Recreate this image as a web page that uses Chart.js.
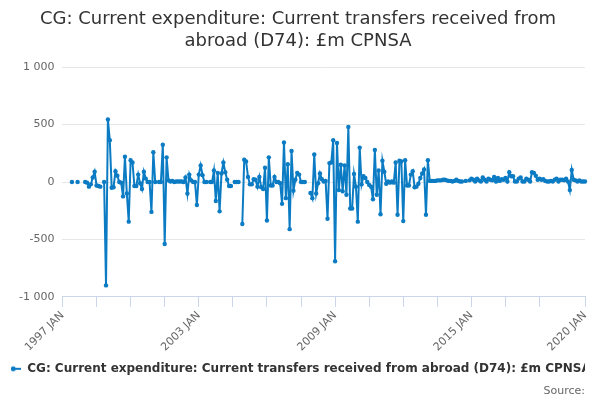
<!DOCTYPE html>
<html>
<head>
<meta charset="utf-8">
<script src="https://cdn.jsdelivr.net/npm/chart.js@4.4.1/dist/chart.umd.min.js"></script>
<style>
  html, body { margin: 0; padding: 0; background: #fff; }
  #wrap { width: 600px; height: 400px; }
</style>
</head>
<body>
<div id="wrap"><canvas id="chart"></canvas></div>
<script>
// Monthly categories, 1997 JAN to 2020 JAN
const startYear = 1997;
const monthNames = ['JAN', 'FEB', 'MAR', 'APR', 'MAY', 'JUN', 'JUL', 'AUG', 'SEP', 'OCT', 'NOV', 'DEC'];
const labels = [];
for (let i = 0; i < 277; i++) {
    labels.push((startYear + Math.floor(i / 12)) + ' ' + monthNames[i % 12]);
}

// Labels shown on the x axis
const tickLabels = ['1997 JAN', '2003 JAN', '2009 JAN', '2015 JAN', '2020 JAN'];

// £m (null = no value)
const values = [
    null, null, null, null, null, 0, null, null, 0, null, null, null,
    0, -5, -40, -20, 40, 90, -30, -35, -40, null, 0, -900,
    545, 365, -50, -45, 95, 55, 0, -5, -125, 220, -100, -345,
    190, 170, -35, -35, 65, -10, -60, 90, 30, 0, 0, -260,
    260, 0, null, 0, 0, 325, -540, 215, 15, 5, 10, 0,
    5, 5, 5, 5, 0, 40, -100, 65, 15, 0, 0, -200,
    65, 145, 60, 0, 0, null, 0, 0, 100, -165, 80, -255,
    75, 170, 85, 20, -35, -35, null, 0, 0, 0, null, -365,
    195, 180, 45, -20, -20, 25, 20, -40, 45, -45, -60, 125,
    -335, 215, -30, -30, 45, 0, 0, -10, -190, 345, -140, 155,
    -410, 270, -75, 20, 80, 65, 0, 0, 0, null, null, -95,
    -140, 240, -100, -10, 75, 25, 5, 10, -320, 165, 170, 365,
    -690, 340, -70, 150, -80, 145, -110, 480, -230, -230, 70, -40,
    -345, 300, -20, 50, 35, 0, -25, -40, -150, 280, -110, 100,
    -280, 185, 90, -15, 5, -5, 5, -5, 170, -285, 185, 180,
    -340, 190, -30, -30, 65, 95, -45, -40, -15, 35, 75, 110,
    -285, 190, 10, 10, 10, 10, 15, 15, 15, 20, 20, 15,
    10, 10, 5, 10, 20, 10, 5, 5, null, 10, null, 15,
    30, 20, 5, 30, 15, 5, 40, 20, 5, 30, 20, 15,
    45, 5, 35, 10, 25, 20, 35, 5, 85, 50, 50, 5,
    5, 30, 40, 5, 5, 30, 20, 5, 85, 80, 55, 20,
    30, 20, 25, 10, 5, 5, 10, 5, 20, 30, 5, 20,
    20, 15, 30, 5, -70, 105, 20, 15, 5, 15, 5, 5,
    5
];

const seriesName = 'CG: Current expenditure: Current transfers received from abroad (D74): £m CPNSA';
const lineColor = '#0b7bc3';

// Legend symbol: short line with a dot in the middle
const legendIcon = document.createElement('canvas');
legendIcon.width = 16;
legendIcon.height = 8;
const ic = legendIcon.getContext('2d');
ic.strokeStyle = lineColor;
ic.lineWidth = 2;
ic.beginPath();
ic.moveTo(0, 4);
ic.lineTo(16, 4);
ic.stroke();
ic.fillStyle = lineColor;
ic.beginPath();
ic.arc(8, 4, 2.5, 0, Math.PI * 2);
ic.fill();

function isTick(i) {
    return (i % 18 === 0 && i <= 252) || i === labels.length - 1;
}

function withSpaces(v) {
    return String(v).replace(/\B(?=(\d{3})+(?!\d))/g, ' ');
}

Chart.defaults.font.family = '"DejaVu Sans", sans-serif';
Chart.defaults.color = '#666';

const ctx = document.getElementById('chart').getContext('2d');
const chart = new Chart(ctx, {
    type: 'line',
    data: {
        labels: labels,
        datasets: [{
            label: seriesName,
            data: values,
            borderColor: lineColor,
            backgroundColor: lineColor,
            borderWidth: 2,
            pointRadius: 2.2,
            pointBorderWidth: 0,
            pointBackgroundColor: lineColor,
            pointStyle: 'circle',
            spanGaps: false,
            tension: 0
        }]
    },
    options: {
        responsive: true,
        maintainAspectRatio: false,
        animation: false,
        layout: { padding: { left: 11, right: 15, top: 0, bottom: 0 } },
        scales: {
            x: {
                type: 'category',
                offset: false,
                grid: {
                    display: true,
                    drawOnChartArea: false,
                    drawTicks: true,
                    tickLength: 10,
                    color: (c) => isTick(c.index) ? '#ccd6eb' : 'rgba(0,0,0,0)'
                },
                border: { display: true, color: '#ccd6eb' },
                ticks: {
                    autoSkip: false,
                    minRotation: 45,
                    maxRotation: 45,
                    color: '#666',
                    font: { size: 11 },
                    padding: 2,
                    callback: function (value, index) {
                        const l = this.getLabelForValue(value);
                        return tickLabels.includes(l) ? l : '';
                    }
                }
            },
            y: {
                min: -1000,
                max: 1000,
                grid: { color: '#e6e6e6', drawTicks: false },
                border: { display: false },
                ticks: {
                    stepSize: 500,
                    color: '#666',
                    font: { size: 11 },
                    padding: 8,
                    callback: (v) => withSpaces(v)
                }
            }
        },
        plugins: {
            title: {
                display: true,
                text: ['CG: Current expenditure: Current transfers received from', 'abroad (D74): £m CPNSA'],
                color: '#333',
                font: { size: 18, weight: 'normal' },
                lineHeight: 1.22,
                padding: { top: 9, bottom: 15 }
            },
            subtitle: {
                display: true,
                position: 'bottom',
                align: 'end',
                text: 'Source:',
                color: '#666',
                font: { size: 11 },
                padding: { top: 0, bottom: 2 }
            },
            legend: {
                display: true,
                position: 'bottom',
                labels: {
                    usePointStyle: true,
                    pointStyle: legendIcon,
                    pointStyleWidth: 16,
                    color: '#333',
                    font: { size: 12, weight: 'bold' },
                    padding: 7
                }
            },
            tooltip: { enabled: false }
        }
    }
});
</script>
</body>
</html>
